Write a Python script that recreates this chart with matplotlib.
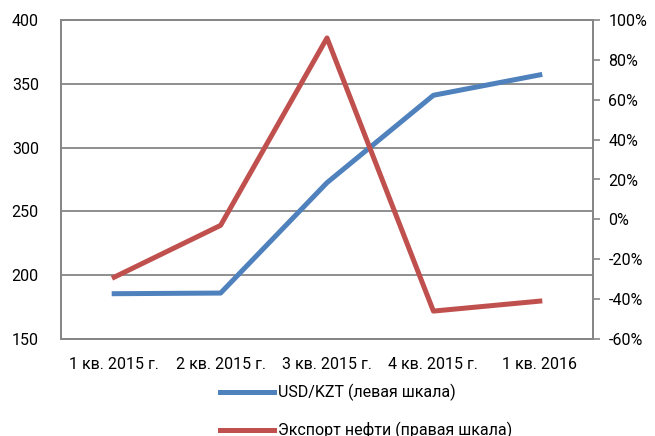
import matplotlib
matplotlib.use("Agg")
import matplotlib.pyplot as plt
from matplotlib.ticker import FuncFormatter

plt.rcParams['font.family'] = ['Roboto', 'DejaVu Sans']

categories = ["1 кв. 2015 г.", "2 кв. 2015 г.", "3 кв. 2015 г.", "4 кв. 2015 г.", "1 кв. 2016"]
usd_kzt = [185.5, 186.0, 272.5, 341.0, 357.0]
oil_export = [-29, -3, 91, -46, -41]
label_usd = "USD/KZT (левая шкала)"
label_oil = "Экспорт нефти (правая шкала)"

blue = "#4F81BD"
red = "#C0504D"
grid_c = "#868686"
fs = 11.5

fig = plt.figure(figsize=(6.55, 4.36), dpi=100)
ax = fig.add_axes([61/655, 1-339/436, (593-61)/655, (339-20)/436])
ax2 = ax.twinx()

x = list(range(len(categories)))
l1, = ax.plot(x, usd_kzt, color=blue, lw=3.6, solid_joinstyle='round', zorder=3)
l2, = ax2.plot(x, oil_export, color=red, lw=3.6, solid_joinstyle='round', zorder=3)

ax.set_xlim(-0.5, len(categories)-0.5)
ax.set_ylim(150, 400)
ax.set_yticks([150, 200, 250, 300, 350, 400])
ax2.set_ylim(-60, 100)
ax2.set_yticks(list(range(-60, 101, 20)))
ax2.yaxis.set_major_formatter(FuncFormatter(lambda v, p: f"{int(v)}%"))

ax.set_xticks(x)
ax.set_xticklabels(categories)
ax.tick_params(axis='x', length=0, pad=13, labelsize=fs)
ax.tick_params(axis='y', length=0, pad=16, labelsize=fs)
ax2.tick_params(axis='y', length=5, width=1.2, color=grid_c, pad=6, labelsize=fs)

ax.yaxis.grid(True, color=grid_c, lw=1.3)
ax.set_axisbelow(True)
for a in (ax, ax2):
    for s in a.spines.values():
        s.set_color(grid_c)
        s.set_linewidth(1.3)

fig.legend([l1, l2], [label_usd, label_oil], loc='upper left',
           bbox_to_anchor=(220/655, 1-384/436), frameon=False,
           fontsize=fs, handlelength=3.4, handletextpad=0.2,
           labelspacing=1.3, borderpad=0, borderaxespad=0)

fig.savefig("out.png", dpi=100)
